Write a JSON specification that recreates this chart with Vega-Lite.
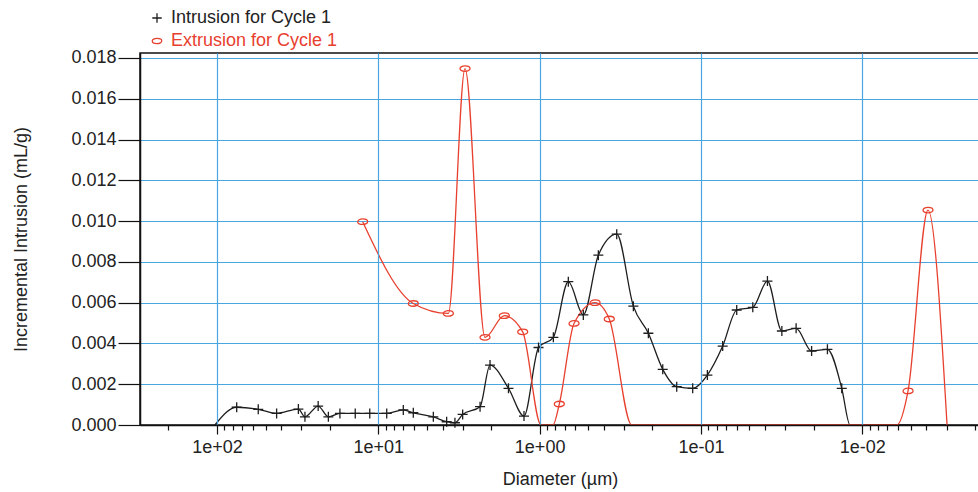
{
  "$schema": "https://vega.github.io/schema/vega-lite/v6.json",
  "width": 840,
  "height": 372,
  "autosize": {"type": "none"},
  "padding": {"left": 140, "top": 53, "right": 0, "bottom": 67},
  "background": "white",
  "config": {
    "font": "Liberation Sans",
    "view": {"stroke": "#111111", "strokeWidth": 1.5},
    "axis": {
      "labelFont": "Liberation Sans",
      "titleFont": "Liberation Sans",
      "labelFontSize": 18,
      "titleFontSize": 18,
      "labelColor": "#222222",
      "titleColor": "#222222",
      "titleFontWeight": "normal",
      "domainColor": "#111111",
      "domainWidth": 1.5,
      "tickColor": "#111111",
      "tickWidth": 1.2,
      "gridColor": "#4aa5e0",
      "gridWidth": 1.2,
      "gridOpacity": 1
    },
    "legend": {
      "orient": "none",
      "legendX": 8,
      "legendY": -44,
      "labelFont": "Liberation Sans",
      "labelFontSize": 18,
      "labelLimit": 0,
      "symbolSize": 90,
      "symbolStrokeWidth": 1.3,
      "rowPadding": 5,
      "labelOffset": 5,
      "padding": 0
    }
  },
  "data": {
    "values": [
      {"s": "Intrusion for Cycle 1", "d": 103, "v": 0},
      {"s": "Intrusion for Cycle 1", "d": 75.5, "v": 0.00087},
      {"s": "Intrusion for Cycle 1", "d": 55.5, "v": 0.00077},
      {"s": "Intrusion for Cycle 1", "d": 42.7, "v": 0.00057},
      {"s": "Intrusion for Cycle 1", "d": 31.3, "v": 0.00078},
      {"s": "Intrusion for Cycle 1", "d": 28.5, "v": 0.0004},
      {"s": "Intrusion for Cycle 1", "d": 23.6, "v": 0.00093},
      {"s": "Intrusion for Cycle 1", "d": 20.4, "v": 0.0004},
      {"s": "Intrusion for Cycle 1", "d": 17.3, "v": 0.00057},
      {"s": "Intrusion for Cycle 1", "d": 13.9, "v": 0.00057},
      {"s": "Intrusion for Cycle 1", "d": 11.3, "v": 0.00057},
      {"s": "Intrusion for Cycle 1", "d": 8.87, "v": 0.00057},
      {"s": "Intrusion for Cycle 1", "d": 7.0, "v": 0.00074},
      {"s": "Intrusion for Cycle 1", "d": 6.07, "v": 0.0006},
      {"s": "Intrusion for Cycle 1", "d": 4.56, "v": 0.0004},
      {"s": "Intrusion for Cycle 1", "d": 3.77, "v": 0.00016},
      {"s": "Intrusion for Cycle 1", "d": 3.35, "v": 0.00011},
      {"s": "Intrusion for Cycle 1", "d": 3.0, "v": 0.00052},
      {"s": "Intrusion for Cycle 1", "d": 2.34, "v": 0.0009},
      {"s": "Intrusion for Cycle 1", "d": 2.03, "v": 0.00294},
      {"s": "Intrusion for Cycle 1", "d": 1.56, "v": 0.0018},
      {"s": "Intrusion for Cycle 1", "d": 1.25, "v": 0.00044},
      {"s": "Intrusion for Cycle 1", "d": 1.016, "v": 0.0038},
      {"s": "Intrusion for Cycle 1", "d": 0.822, "v": 0.0043},
      {"s": "Intrusion for Cycle 1", "d": 0.664, "v": 0.00703},
      {"s": "Intrusion for Cycle 1", "d": 0.536, "v": 0.0054},
      {"s": "Intrusion for Cycle 1", "d": 0.4325, "v": 0.00833},
      {"s": "Intrusion for Cycle 1", "d": 0.3327, "v": 0.00936},
      {"s": "Intrusion for Cycle 1", "d": 0.2624, "v": 0.00583},
      {"s": "Intrusion for Cycle 1", "d": 0.2118, "v": 0.0045},
      {"s": "Intrusion for Cycle 1", "d": 0.1725, "v": 0.00273},
      {"s": "Intrusion for Cycle 1", "d": 0.1413, "v": 0.00188},
      {"s": "Intrusion for Cycle 1", "d": 0.1125, "v": 0.0018},
      {"s": "Intrusion for Cycle 1", "d": 0.0912, "v": 0.00245},
      {"s": "Intrusion for Cycle 1", "d": 0.0733, "v": 0.00387},
      {"s": "Intrusion for Cycle 1", "d": 0.06, "v": 0.00564},
      {"s": "Intrusion for Cycle 1", "d": 0.0477, "v": 0.00577},
      {"s": "Intrusion for Cycle 1", "d": 0.0387, "v": 0.00706},
      {"s": "Intrusion for Cycle 1", "d": 0.0315, "v": 0.00461},
      {"s": "Intrusion for Cycle 1", "d": 0.0257, "v": 0.00474},
      {"s": "Intrusion for Cycle 1", "d": 0.0206, "v": 0.00363},
      {"s": "Intrusion for Cycle 1", "d": 0.01644, "v": 0.00371},
      {"s": "Intrusion for Cycle 1", "d": 0.0134, "v": 0.0018},
      {"s": "Intrusion for Cycle 1", "d": 0.0119, "v": 0},
      {"s": "Intrusion for Cycle 1", "d": 0.0096, "v": 0},
      {"s": "Intrusion for Cycle 1", "d": 0.00776, "v": 0},
      {"s": "Intrusion for Cycle 1", "d": 0.00626, "v": 0},
      {"s": "Intrusion for Cycle 1", "d": 0.00506, "v": 0},
      {"s": "Intrusion for Cycle 1", "d": 0.00408, "v": 0},
      {"s": "Intrusion for Cycle 1", "d": 0.003, "v": 0},
      {"s": "Extrusion for Cycle 1", "d": 12.5, "v": 0.00997},
      {"s": "Extrusion for Cycle 1", "d": 6.07, "v": 0.00596},
      {"s": "Extrusion for Cycle 1", "d": 3.68, "v": 0.00547},
      {"s": "Extrusion for Cycle 1", "d": 2.9, "v": 0.01748},
      {"s": "Extrusion for Cycle 1", "d": 2.18, "v": 0.0043},
      {"s": "Extrusion for Cycle 1", "d": 1.655, "v": 0.00536},
      {"s": "Extrusion for Cycle 1", "d": 1.273, "v": 0.00457},
      {"s": "Extrusion for Cycle 1", "d": 0.98, "v": 0},
      {"s": "Extrusion for Cycle 1", "d": 0.826, "v": 0},
      {"s": "Extrusion for Cycle 1", "d": 0.755, "v": 0.00103},
      {"s": "Extrusion for Cycle 1", "d": 0.612, "v": 0.00498},
      {"s": "Extrusion for Cycle 1", "d": 0.4533, "v": 0.006},
      {"s": "Extrusion for Cycle 1", "d": 0.37, "v": 0.0052},
      {"s": "Extrusion for Cycle 1", "d": 0.2685, "v": 0},
      {"s": "Extrusion for Cycle 1", "d": 0.0061, "v": 0},
      {"s": "Extrusion for Cycle 1", "d": 0.0052, "v": 0.00167},
      {"s": "Extrusion for Cycle 1", "d": 0.00391, "v": 0.01054},
      {"s": "Extrusion for Cycle 1", "d": 0.00298, "v": 0}
    ]
  },
  "layer": [
    {
      "mark": {"type": "line", "interpolate": "monotone", "strokeWidth": 1.3},
      "encoding": {
        "x": {
          "field": "d",
          "type": "quantitative",
          "scale": {"type": "log", "domain": [0.001862, 300.2], "reverse": true, "nice": false},
          "axis": {
            "title": "Diameter (µm)",
            "values": [200, 100, 90, 80, 70, 60, 50, 40, 30, 20, 10, 9, 8, 7, 6, 5, 4, 3, 2, 1, 0.9, 0.8, 0.7, 0.6, 0.5, 0.4, 0.3, 0.2, 0.1, 0.09, 0.08, 0.07, 0.06, 0.05, 0.04, 0.03, 0.02, 0.01, 0.009, 0.008, 0.007, 0.006, 0.005, 0.004, 0.003, 0.002],
            "labelExpr": "abs(log(datum.value)/LN10 - round(log(datum.value)/LN10)) < 0.000001 ? (datum.value >= 1 ? '1e+0' + round(log(datum.value)/LN10) : '1e-0' + round(-log(datum.value)/LN10)) : ''",
            "tickSize": {"condition": {"test": "abs(log(datum.value)/LN10 - round(log(datum.value)/LN10)) < 0.000001", "value": 9}, "value": 5},
            "gridOpacity": {"condition": {"test": "abs(log(datum.value)/LN10 - round(log(datum.value)/LN10)) < 0.000001", "value": 1}, "value": 0},
            "labelPadding": 4,
            "labelOverlap": false,
            "labelFlush": false,
            "titlePadding": 14,
            "zindex": 1
          }
        },
        "y": {
          "field": "v",
          "type": "quantitative",
          "scale": {"domain": [0, 0.018245], "nice": false},
          "axis": {
            "title": "Incremental Intrusion (mL/g)",
            "values": [0, 0.002, 0.004, 0.006, 0.008, 0.01, 0.012, 0.014, 0.016, 0.018],
            "format": ".3f",
            "tickSize": 22,
            "labelPadding": 2,
            "titlePadding": 40
          }
        },
        "color": {
          "field": "s",
          "type": "nominal",
          "scale": {"domain": ["Intrusion for Cycle 1", "Extrusion for Cycle 1"], "range": ["#1e1e1e", "#e8402f"]},
          "legend": {
            "title": null,
            "encode": {"labels": {"update": {"fill": {"signal": "datum.value == 'Extrusion for Cycle 1' ? '#e8402f' : '#222222'"}}}}
          }
        },
        "order": {"field": "d", "type": "quantitative", "sort": "descending"}
      }
    },
    {
      "transform": [{"filter": "datum.v > 0"}],
      "mark": {"type": "point", "filled": false, "strokeWidth": 1.3, "opacity": 1},
      "encoding": {
        "x": {"field": "d", "type": "quantitative"},
        "y": {"field": "v", "type": "quantitative"},
        "color": {
          "field": "s",
          "type": "nominal",
          "legend": {
            "title": null,
            "encode": {"labels": {"update": {"fill": {"signal": "datum.value == 'Extrusion for Cycle 1' ? '#e8402f' : '#222222'"}}}}
          }
        },
        "shape": {
          "field": "s",
          "type": "nominal",
          "scale": {"domain": ["Intrusion for Cycle 1", "Extrusion for Cycle 1"], "range": ["M-1,0H1M0,-1V1", "M-1,0A1,0.55 0 1,1 1,0A1,0.55 0 1,1 -1,0Z"]},
          "legend": {
            "title": null,
            "encode": {"labels": {"update": {"fill": {"signal": "datum.value == 'Extrusion for Cycle 1' ? '#e8402f' : '#222222'"}}}}
          }
        },
        "size": {"value": 100}
      }
    }
  ]
}
